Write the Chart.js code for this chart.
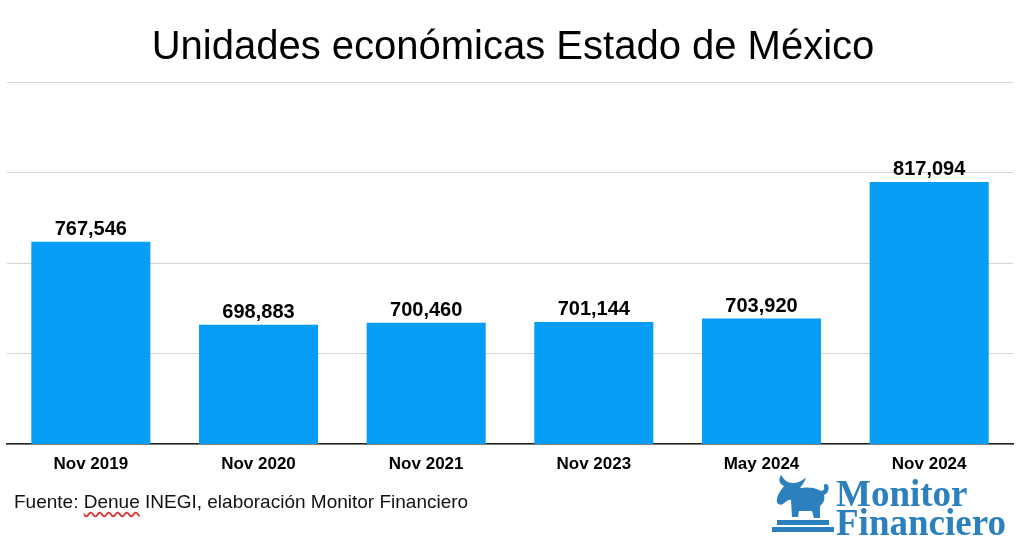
<!DOCTYPE html>
<html>
<head>
<meta charset="utf-8">
<script src="https://cdn.jsdelivr.net/npm/chart.js@4"></script>
<style>
  body { margin: 0; background: #fff; font-family: "Liberation Sans", Arial, sans-serif; }
  #wrap { position: relative; width: 1024px; height: 555px; overflow: hidden; }
  canvas { position: absolute; left: 0; top: 0; }
  .title { position: absolute; left: 0; width: 1026px; top: 23px; text-align: center; font-size: 40px; color: #000; }
  .source { position: absolute; left: 14px; top: 491px; font-size: 19px; color: #111; }
  .source .sp { text-decoration: underline wavy #d33; text-decoration-skip-ink: none; text-underline-offset: 3px; }
  .logo { position: absolute; left: 772px; top: 479px; width: 250px; height: 60px; color: #2b80bd; }
  .logo svg { position: absolute; left: 0; top: -6px; }
  .logo .name { position: absolute; left: 64px; top: 0; font-family: "Liberation Serif", "DejaVu Serif", serif; font-weight: bold; font-size: 37px; line-height: 29px; }
</style>
</head>
<body>
<div id="wrap">
  <canvas id="unitsChart" width="1024" height="555"></canvas>
  <div class="title">Unidades económicas Estado de México</div>
  <div class="source">Fuente: <span class="sp">Denue</span> INEGI, elaboración Monitor Financiero</div>
  <div class="logo">
    <svg width="62" height="60" viewBox="0 0 62 60">
      <path fill="#2b80bd" d="M9 2 C6 6 7 11 12 13 C10 16 6 20 5 26 C4 30 7 33 11 31 C14 29 16 26 19 27 L20 44 L26 44 L27 38 L40 38 L42 45 L48 45 L48 33 C52 30 53 26 52 22 C55 21 58 17 56 12 C54 10 51 11 52 14 C53 17 50 19 47 17 C42 14 34 14 28 15 C30 12 33 9 34 4 C30 8 26 10 20 10 C16 10 12 7 9 2 Z"/>
      <rect x="5" y="47" width="52" height="5" fill="#2b80bd"/>
      <rect x="0" y="54" width="62" height="5" fill="#2b80bd"/>
    </svg>
    <div class="name">Monitor<br>Financiero</div>
  </div>
</div>
<script>
const categories = ['Nov 2019', 'Nov 2020', 'Nov 2021', 'Nov 2023', 'May 2024', 'Nov 2024'];
const units = [767546, 698883, 700460, 701144, 703920, 817094];
const axisMin = 600000;
const axisMax = 900000;
const axisStep = 75000;

const fontFamily = '"Liberation Sans", Arial, sans-serif';
const ctx = document.getElementById('unitsChart').getContext('2d');

// values written above each bar
const barLabels = {
    id: 'barLabels',
    afterDatasetsDraw(chart) {
        const c = chart.ctx;
        const meta = chart.getDatasetMeta(0);
        c.save();
        c.font = 'bold 20px ' + fontFamily;
        c.fillStyle = '#000';
        c.textAlign = 'center';
        c.textBaseline = 'alphabetic';
        meta.data.forEach(function(bar, i) {
            c.fillText(units[i].toLocaleString('en-US'), bar.x, bar.y - 7);
        });
        c.restore();
    }
};

new Chart(ctx, {
    type: 'bar',
    data: {
        labels: categories,
        datasets: [{
            label: 'Unidades económicas',
            data: units,
            backgroundColor: '#069df6',
            barPercentage: 0.71,
            categoryPercentage: 1.0
        }]
    },
    options: {
        responsive: false,
        animation: false,
        layout: { padding: { left: 7, right: 11, top: 82, bottom: 61 } },
        plugins: {
            legend: { display: false },
            tooltip: { enabled: false }
        },
        scales: {
            x: {
                grid: { display: false },
                border: { display: true, color: '#222', width: 1.5 },
                ticks: {
                    color: '#000',
                    padding: 2,
                    font: { family: fontFamily, size: 17, weight: 'bold' }
                },
                afterFit: function(s) { s.height = 50; }
            },
            y: {
                min: axisMin,
                max: axisMax,
                border: { display: false },
                grid: { color: '#d4d4d4', lineWidth: 1, drawTicks: false },
                ticks: { display: false, stepSize: axisStep },
                afterFit: function(s) { s.width = 0; }
            }
        }
    },
    plugins: [barLabels]
});
</script>
</body>
</html>
